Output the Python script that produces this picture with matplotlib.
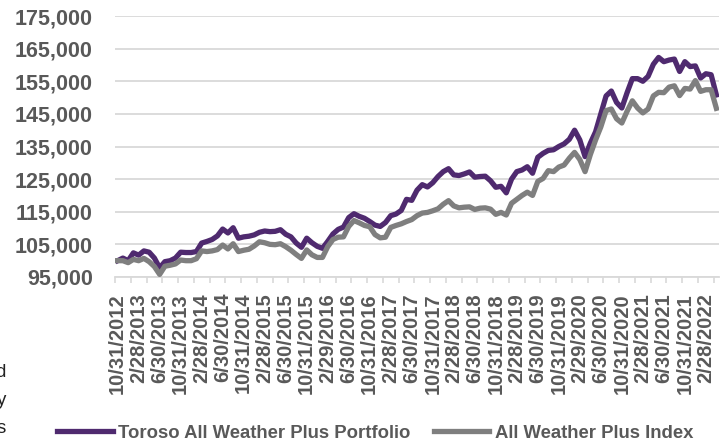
import matplotlib
matplotlib.use("Agg")
import matplotlib.pyplot as plt
import numpy as np
import pandas as pd
from matplotlib.ticker import FuncFormatter, FixedLocator

# month-end dates, 10/31/2012 .. 4/30/2022
dates = pd.date_range("2012-10-31", "2022-04-30", freq="ME")

# growth of $100,000 (in thousands)
portfolio_k = [
    100.0, 100.8, 100.0, 102.4, 101.7, 103.0, 102.6, 100.8, 97.8, 99.7,
    100.0, 100.8, 102.6, 102.5, 102.5, 102.8, 105.4, 105.9, 106.5, 107.6,
    109.7, 108.5, 110.1, 106.9, 107.3, 107.5, 107.9, 108.7, 109.1, 108.9,
    109.0, 109.5, 108.1, 107.3, 105.4, 104.1, 106.9, 105.5, 104.4, 103.8,
    105.9, 108.2, 109.6, 110.3, 113.2, 114.4, 113.6, 113.0, 112.0, 110.9,
    110.5, 111.7, 113.8, 114.3, 115.4, 118.8, 118.5, 121.6, 123.3, 122.6,
    123.9, 125.8, 127.3, 128.2, 126.3, 126.1, 126.6, 127.2, 125.6, 125.8,
    125.9, 124.5, 122.5, 122.8, 120.8, 125.0, 127.3, 127.8, 128.8, 126.8,
    131.7, 132.9, 133.8, 134.0, 135.0, 135.8, 137.2, 140.0, 137.0, 131.9,
    136.0, 139.5, 145.0, 150.5, 152.0, 148.5, 146.8, 151.5, 155.8, 155.8,
    155.0, 156.5, 160.2, 162.3, 161.0, 161.5, 161.8, 158.0, 161.0, 159.5,
    159.7, 156.0, 157.3, 157.0, 150.8,
]
index_k = [
    100.0, 100.0, 99.4, 100.4, 100.0, 100.7, 99.7, 98.2, 95.8, 98.3,
    98.6, 99.0, 100.2, 100.0, 100.0, 100.6, 103.0, 102.8, 103.0, 103.4,
    104.8, 103.6, 105.2, 102.8, 103.2, 103.5, 104.5, 105.8, 105.5, 105.0,
    104.9, 105.2, 104.3, 103.2, 101.9, 100.7, 103.3, 101.8, 101.0, 101.0,
    104.3, 106.5, 107.2, 107.3, 110.5, 112.3, 111.6, 110.8, 110.4, 108.0,
    107.0, 107.2, 110.2, 110.8, 111.3, 112.0, 112.6, 113.8, 114.6, 114.8,
    115.3, 115.9, 117.3, 118.4, 116.8, 116.2, 116.4, 116.5, 115.7, 116.1,
    116.2, 115.8, 114.2, 114.8, 114.0, 117.6, 118.8, 120.0, 121.0, 120.0,
    124.3, 125.2, 127.6, 127.3, 128.7, 129.3, 131.4, 133.2, 131.0, 127.3,
    132.5, 137.0, 141.0, 146.0, 146.5, 143.5, 142.2, 145.8, 149.0, 146.8,
    145.3, 146.5, 150.5, 151.6, 151.5, 153.2, 153.6, 150.6, 152.8, 152.6,
    155.2, 151.9, 152.4, 152.4, 146.7,
]
series_names = ["Toroso All Weather Plus Portfolio", "All Weather Plus Index"]
y_ticks = list(range(95000, 175001, 10000))
side_text = ["d", "y", "s"]

portfolio = np.array(portfolio_k) * 1000
index = np.array(index_k) * 1000
labels = [f"{d.month}/{d.day}/{d.year}" for d in dates]
x = np.arange(len(dates))

plt.rcParams["font.family"] = ["Liberation Sans", "DejaVu Sans"]
txt = "#595959"
grid = "#d9d9d9"

fig = plt.figure(figsize=(7.25, 4.42), dpi=100)
ax = fig.add_axes([115 / 725, 1 - 277 / 442, 604 / 725, 261 / 442])

ax.plot(x, portfolio, color="#4f2a6f", lw=3.8, label=series_names[0],
        solid_joinstyle="round", zorder=3)
ax.plot(x, index, color="#7f7f7f", lw=3.8, label=series_names[1],
        solid_joinstyle="round", zorder=4)

ax.set_xlim(-0.5, len(x) - 0.5)
ax.set_ylim(y_ticks[0], y_ticks[-1])
ax.set_yticks(y_ticks)
ax.yaxis.set_major_formatter(FuncFormatter(lambda v, p: f"{int(v):,}"))
ax.grid(axis="y", color=grid, lw=1.3)
ax.set_axisbelow(True)

for s in ["top", "right", "left"]:
    ax.spines[s].set_visible(False)
ax.spines["bottom"].set_color(grid)
ax.spines["bottom"].set_linewidth(1.3)

ax.set_xticks(x[::4])
ax.set_xticklabels(labels[::4], rotation=90, ha="center", va="top",
                   fontsize=14.5, fontweight="bold", color=txt)
ax.xaxis.set_minor_locator(FixedLocator(np.arange(-0.5, len(x), 3)))
ax.tick_params(axis="x", which="major", length=0, pad=11.5)
ax.tick_params(axis="x", which="minor", length=4, color=grid, width=1.2)
ax.tick_params(axis="y", length=0, pad=16, labelsize=15.5, labelcolor=txt)
for t in ax.get_yticklabels():
    t.set_fontweight("bold")

leg = fig.legend(loc="center", bbox_to_anchor=(375 / 725, 1 - 433 / 442),
                 ncol=2, frameon=False, handlelength=3.0, handletextpad=0.3,
                 columnspacing=1.25, prop={"size": 13.3, "weight": "bold"})
for t in leg.get_texts():
    t.set_color(txt)
for h in leg.get_lines():
    h.set_linewidth(3.8)

for k, s in enumerate(side_text):
    fig.text(6 / 725, 1 - (377 + 28 * k) / 442, s, ha="right", va="baseline",
             fontsize=13.5, color="#222222")

fig.savefig("out.png", dpi=100)
